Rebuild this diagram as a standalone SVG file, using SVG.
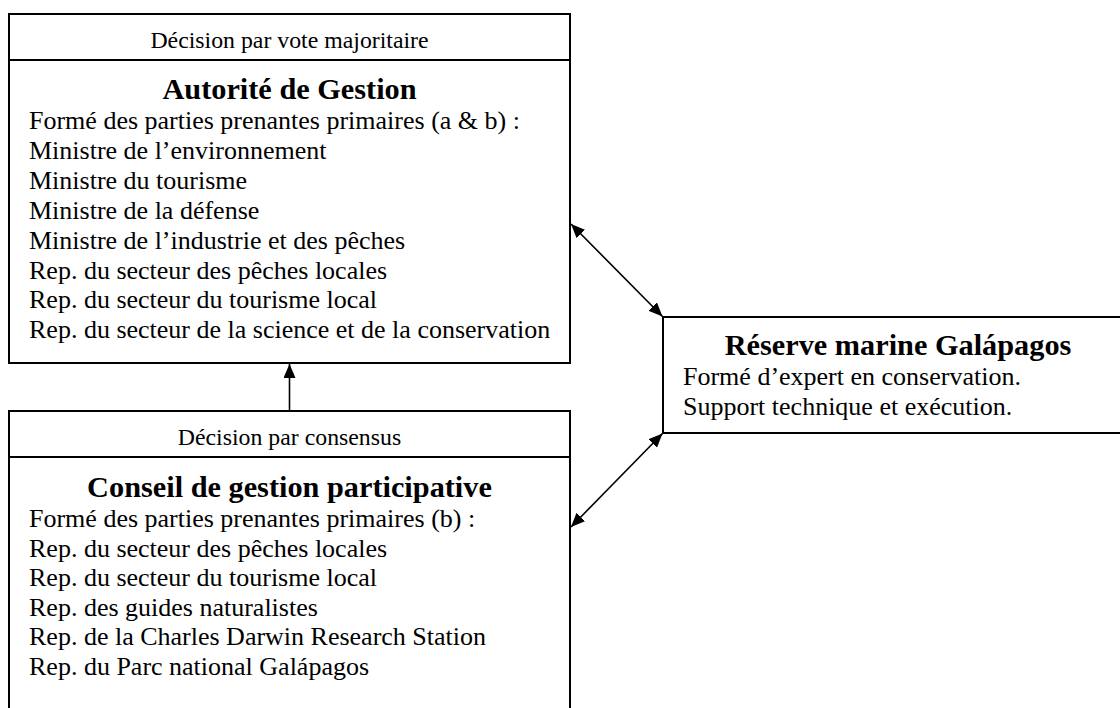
<svg xmlns="http://www.w3.org/2000/svg" width="1120" height="708" viewBox="0 0 1120 708">
<style>
text{font-family:"Liberation Serif","Times New Roman",serif;fill:#000}
.hdr{font-size:23.8px;text-anchor:middle}
.ttl{font-size:30.3px;font-weight:bold;text-anchor:middle}
.body{font-size:26px}
.box{fill:#fff;stroke:#000;stroke-width:2}
.sep{stroke:#000;stroke-width:2}
.conn{stroke:#000;stroke-width:1.6;fill:none}
</style>
<defs>
<marker id="ah" viewBox="0 0 14 12" refX="14" refY="6" markerWidth="14" markerHeight="12" markerUnits="userSpaceOnUse" orient="auto-start-reverse">
<path d="M0,0 L14,6 L0,12 Z" fill="#000"/>
</marker>
</defs>
<rect width="1120" height="708" fill="#fff"/>
<g id="autorite">
<rect class="box" x="9" y="14" width="561" height="349"/>
<line class="sep" x1="9" y1="60" x2="570" y2="60"/>
<text class="hdr" x="289.5" y="48">Décision par vote majoritaire</text>
<text class="ttl" x="289.5" y="99">Autorité de Gestion</text>
<text class="body" x="29" y="129">Formé des parties prenantes primaires (a &amp; b) :</text>
<text class="body" x="29" y="158.9">Ministre de l’environnement</text>
<text class="body" x="29" y="188.8">Ministre du tourisme</text>
<text class="body" x="29" y="218.7">Ministre de la défense</text>
<text class="body" x="29" y="248.6">Ministre de l’industrie et des pêches</text>
<text class="body" x="29" y="278.5">Rep. du secteur des pêches locales</text>
<text class="body" x="29" y="308.4">Rep. du secteur du tourisme local</text>
<text class="body" x="29" y="338.3">Rep. du secteur de la science et de la conservation</text>
</g>
<g id="conseil">
<rect class="box" x="9" y="411" width="561" height="310"/>
<line class="sep" x1="9" y1="457" x2="570" y2="457"/>
<text class="hdr" x="289.5" y="445">Décision par consensus</text>
<text class="ttl" x="289.5" y="497">Conseil de gestion participative</text>
<text class="body" x="29" y="527">Formé des parties prenantes primaires (b) :</text>
<text class="body" x="29" y="556.6">Rep. du secteur des pêches locales</text>
<text class="body" x="29" y="586.2">Rep. du secteur du tourisme local</text>
<text class="body" x="29" y="615.8">Rep. des guides naturalistes</text>
<text class="body" x="29" y="645.4">Rep. de la Charles Darwin Research Station</text>
<text class="body" x="29" y="675">Rep. du Parc national Galápagos</text>
</g>
<g id="reserve">
<rect class="box" x="663" y="317" width="480" height="116"/>
<text class="ttl" x="898" y="355">Réserve marine Galápagos</text>
<text class="body" x="683" y="385">Formé d’expert en conservation.</text>
<text class="body" x="683" y="415">Support technique et exécution.</text>
</g>
<g id="connectors">
<line class="conn" x1="289.5" y1="411" x2="289.5" y2="364" marker-end="url(#ah)"/>
<line class="conn" x1="571" y1="224" x2="662.5" y2="316.5" marker-start="url(#ah)" marker-end="url(#ah)"/>
<line class="conn" x1="662.5" y1="433.5" x2="571" y2="527" marker-start="url(#ah)" marker-end="url(#ah)"/>
</g>
</svg>
